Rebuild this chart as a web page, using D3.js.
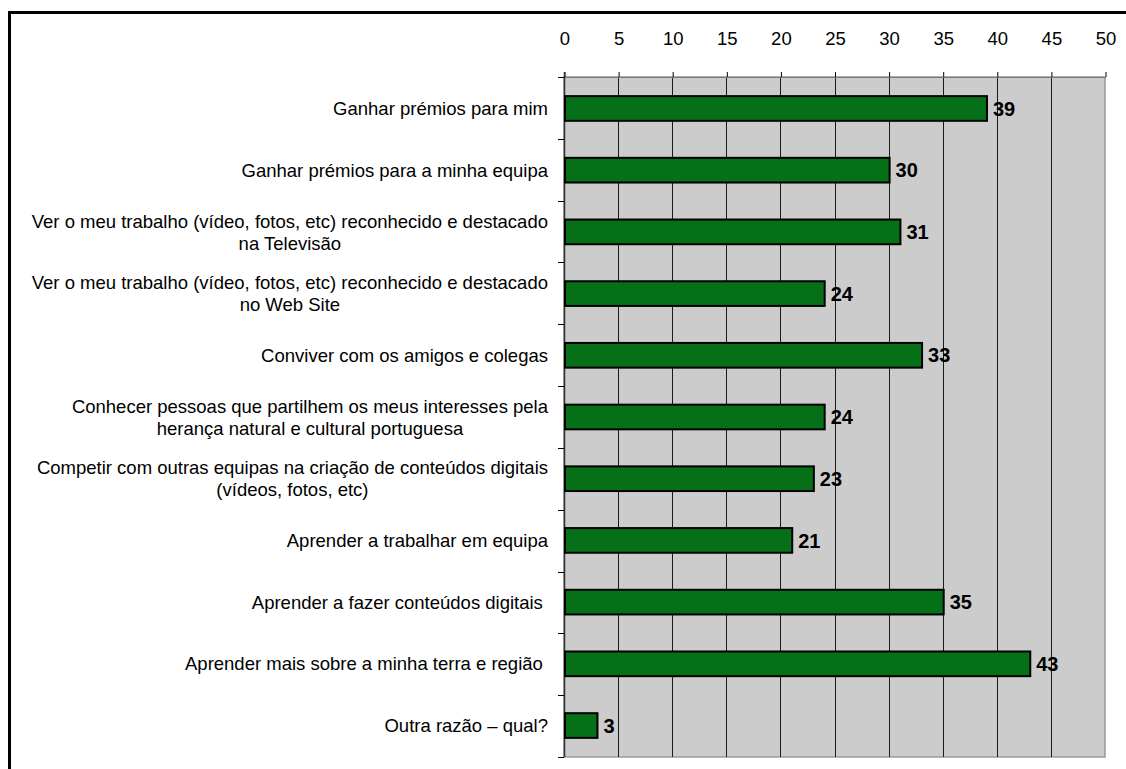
<!DOCTYPE html>
<html>
<head>
<meta charset="utf-8">
<script src="https://cdn.jsdelivr.net/npm/d3@7"></script>
<style>
  html, body { margin: 0; padding: 0; background: #fff; }
  svg { display: block; font-family: Arial, "Liberation Sans", sans-serif; }
</style>
</head>
<body>
<svg id="chart" width="1126" height="769"></svg>
<script>
// Razões para participar — respostas por opção
const categories = [
  ["Ganhar prémios para mim"],
  ["Ganhar prémios para a minha equipa"],
  ["Ver o meu trabalho (vídeo, fotos, etc) reconhecido e destacado", "na Televisão"],
  ["Ver o meu trabalho (vídeo, fotos, etc) reconhecido e destacado", "no Web Site"],
  ["Conviver com os amigos e colegas"],
  ["Conhecer pessoas que partilhem os meus interesses pela", "herança natural e cultural portuguesa"],
  ["Competir com outras equipas na criação de conteúdos digitais", "(vídeos, fotos, etc)"],
  ["Aprender a trabalhar em equipa"],
  ["Aprender a fazer conteúdos digitais "],
  ["Aprender mais sobre a minha terra e região "],
  ["Outra razão – qual?"]
];
const values = [39, 30, 31, 24, 33, 24, 23, 21, 35, 43, 3];
const xTicks = [0, 5, 10, 15, 20, 25, 30, 35, 40, 45, 50];

const FONT = 18.5;
const svg = d3.select("#chart");

// outer frame
svg.append("rect")
  .attr("x", 9.5).attr("y", 12.5)
  .attr("width", 1200).attr("height", 900)
  .attr("fill", "none").attr("stroke", "#000").attr("stroke-width", 3);

const plot = { left: 564, right: 1105, top: 77, bottom: 757 };

const x = d3.scaleLinear().domain([0, 50]).range([plot.left, plot.right]);
const y = d3.scaleBand()
  .domain(d3.range(categories.length))
  .range([plot.top, plot.bottom])
  .paddingInner(0.6).paddingOuter(0.31);

// plot background
svg.append("rect")
  .attr("x", plot.left).attr("y", plot.top)
  .attr("width", plot.right - plot.left).attr("height", plot.bottom - plot.top)
  .attr("fill", "#cccccc").attr("stroke", "#999").attr("stroke-width", 1.5);

// vertical gridlines
svg.append("g")
  .selectAll("line")
  .data(xTicks.filter(t => t > 0 && t < 50))
  .join("line")
  .attr("x1", d => Math.round(x(d)) + 0.5).attr("x2", d => Math.round(x(d)) + 0.5)
  .attr("y1", plot.top).attr("y2", plot.bottom)
  .attr("stroke", "#1a1a1a").attr("stroke-width", 1);

// top axis
const xAxis = svg.append("g")
  .attr("transform", `translate(0.5,${plot.top})`)
  .call(d3.axisTop(x).tickValues(xTicks).tickSize(5).tickPadding(27).tickSizeOuter(0));
xAxis.select(".domain").attr("stroke", "#777");
xAxis.selectAll(".tick line").attr("stroke", "#000");
xAxis.selectAll("text")
  .attr("font-size", FONT).attr("fill", "#000")
  .attr("font-family", "Arial, 'Liberation Sans', sans-serif");

// left axis: line with ticks at category boundaries
const boundaries = d3.range(categories.length + 1).map(i => plot.top + i * (plot.bottom - plot.top) / categories.length);
const yAxisG = svg.append("g");
yAxisG.append("line")
  .attr("x1", plot.left + 0.5).attr("x2", plot.left + 0.5)
  .attr("y1", plot.top - 5).attr("y2", plot.bottom)
  .attr("stroke", "#333").attr("stroke-width", 1.5);
yAxisG.selectAll("line.tk")
  .data(boundaries)
  .join("line").attr("class", "tk")
  .attr("x1", plot.left - 6).attr("x2", plot.left)
  .attr("y1", d => Math.round(d) + 0.5).attr("y2", d => Math.round(d) + 0.5)
  .attr("stroke", "#000").attr("stroke-width", 1);

// bars
svg.append("g")
  .selectAll("rect")
  .data(values)
  .join("rect")
  .attr("x", x(0) + 1)
  .attr("y", (d, i) => y(i))
  .attr("width", d => x(d) - x(0))
  .attr("height", y.bandwidth())
  .attr("fill", "#067018")
  .attr("stroke", "#000").attr("stroke-width", 2);

// value labels
svg.append("g")
  .selectAll("text")
  .data(values)
  .join("text")
  .attr("x", d => x(d) + 7)
  .attr("y", (d, i) => y(i) + y.bandwidth() / 2)
  .attr("dy", "0.36em")
  .attr("font-size", 20).attr("font-weight", "bold").attr("fill", "#000")
  .text(d => d);

// category labels: block right-aligned to the axis, lines centred within the block
const lineH = 22;
const labelRight = plot.left - 16;
const catG = svg.append("g");
categories.forEach((lines, i) => {
  const cy = y(i) + y.bandwidth() / 2;
  const t = catG.append("text")
    .attr("font-size", FONT).attr("fill", "#000")
    .style("white-space", "pre");
  const spans = lines.map((ln, j) => t.append("tspan")
    .attr("y", cy + (j - (lines.length - 1) / 2) * lineH)
    .attr("dy", "0.36em")
    .text(ln));
  if (lines.length === 1) {
    t.attr("text-anchor", "end");
    spans[0].attr("x", labelRight);
  } else {
    const w = d3.max(spans, s => s.node().getComputedTextLength());
    t.attr("text-anchor", "middle");
    spans.forEach(s => s.attr("x", labelRight - w / 2));
  }
});
</script>
</body>
</html>
